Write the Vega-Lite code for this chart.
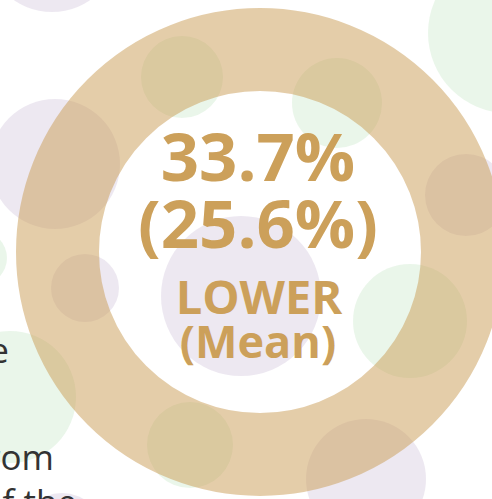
{
  "$schema": "https://vega.github.io/schema/vega-lite/v6.json",
  "width": 492,
  "height": 499,
  "padding": 0,
  "autosize": {"type": "none"},
  "background": "white",
  "config": {"view": {"stroke": null}},
  "datasets": {
    "ring": [{"cx": 260, "cy": 252, "r": 202.5}],
    "bubbles": [
      {"cx": 52, "cy": -55, "r": 67, "tone": "purple"},
      {"cx": 182, "cy": 77, "r": 41, "tone": "green"},
      {"cx": 55, "cy": 164, "r": 65, "tone": "purple"},
      {"cx": 337, "cy": 103, "r": 45, "tone": "green"},
      {"cx": 508, "cy": 33, "r": 80, "tone": "green"},
      {"cx": 466, "cy": 195, "r": 41, "tone": "purple"},
      {"cx": -20, "cy": 258, "r": 27, "tone": "green"},
      {"cx": 85, "cy": 288, "r": 34, "tone": "purple"},
      {"cx": 241, "cy": 296, "r": 80, "tone": "purple"},
      {"cx": 10, "cy": 397, "r": 66, "tone": "green"},
      {"cx": 190, "cy": 445, "r": 43, "tone": "green"},
      {"cx": 410, "cy": 321, "r": 57, "tone": "green"},
      {"cx": 366, "cy": 479, "r": 60, "tone": "purple"},
      {"cx": 62, "cy": 535, "r": 42, "tone": "purple"}
    ]
  },
  "encoding": {
    "x": {"field": "cx", "type": "quantitative", "scale": {"domain": [0, 492], "nice": false, "zero": false}, "axis": null},
    "y": {"field": "cy", "type": "quantitative", "scale": {"domain": [0, 499], "nice": false, "zero": false, "reverse": true}, "axis": null}
  },
  "layer": [
    {
      "data": {"name": "bubbles"},
      "mark": {"type": "point", "shape": "circle", "filled": true, "strokeWidth": 0, "opacity": 0.15},
      "encoding": {
        "size": {"field": "r", "type": "quantitative", "scale": {"type": "pow", "exponent": 2, "domain": [0, 100], "range": [0, 40000], "clamp": false}, "legend": null},
        "color": {"field": "tone", "type": "nominal", "scale": {"domain": ["purple", "green"], "range": ["#8766a2", "#73c373"]}, "legend": null}
      }
    },
    {
      "data": {"name": "ring"},
      "mark": {"type": "point", "shape": "circle", "filled": false, "stroke": "#cca05a", "strokeWidth": 83, "strokeOpacity": 0.52, "opacity": 1},
      "encoding": {
        "size": {"field": "r", "type": "quantitative", "scale": {"type": "pow", "exponent": 2, "domain": [0, 100], "range": [0, 40000], "clamp": false}, "legend": null}
      }
    },
    {
      "data": {"values": [{"cx": 258, "cy": 181, "label": "33.7%"}, {"cx": 258, "cy": 248, "label": "(25.6%)"}]},
      "mark": {"type": "text", "font": "Open Sans", "fontWeight": "bold", "fontSize": 67, "color": "#cca05a", "align": "center", "baseline": "alphabetic"},
      "encoding": {"text": {"field": "label"}}
    },
    {
      "data": {"values": [{"cx": 259, "cy": 314, "label": "LOWER"}]},
      "mark": {"type": "text", "font": "Open Sans", "fontWeight": "bold", "fontSize": 47, "color": "#cca05a", "align": "center", "baseline": "alphabetic"},
      "encoding": {"text": {"field": "label"}}
    },
    {
      "data": {"values": [{"cx": 258, "cy": 358, "label": "(Mean)"}]},
      "mark": {"type": "text", "font": "Open Sans", "fontWeight": "bold", "fontSize": 45, "color": "#cca05a", "align": "center", "baseline": "alphabetic"},
      "encoding": {"text": {"field": "label"}}
    },
    {
      "data": {"values": [{"cx": 9, "cy": 363, "label": "the"}, {"cx": 54, "cy": 470, "label": "from"}, {"cx": 77, "cy": 515, "label": "of the"}]},
      "mark": {"type": "text", "font": "Open Sans", "fontSize": 35, "color": "#333333", "align": "right", "baseline": "alphabetic"},
      "encoding": {"text": {"field": "label"}}
    }
  ]
}
